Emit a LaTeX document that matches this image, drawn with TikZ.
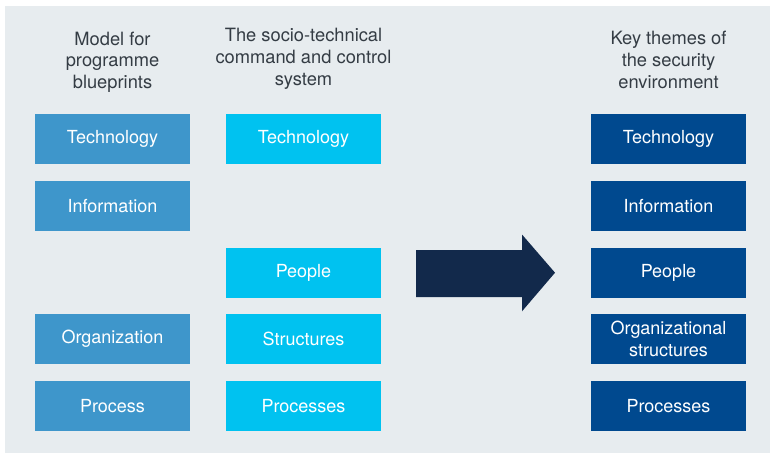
\documentclass[tikz,border=0pt]{standalone}
\usepackage{fontspec}
\setmainfont{TeX Gyre Heros}
\definecolor{panelbg}{HTML}{E7ECEF}
\definecolor{headtext}{HTML}{343C44}
\definecolor{blueprint}{HTML}{3E96CB}
\definecolor{sociotech}{HTML}{00C2F0}
\definecolor{theme}{HTML}{00498F}
\definecolor{arrowfill}{HTML}{12294B}
\begin{document}
\begin{tikzpicture}[x=1pt,y=-1pt,
  box/.style={minimum width=155pt,minimum height=50pt,inner sep=0pt,
    text=white,align=center,font=\fontsize{18}{22}\selectfont},
  bpbox/.style={box,fill=blueprint},
  stbox/.style={box,fill=sociotech},
  thbox/.style={box,fill=theme},
  header/.style={text=headtext,align=center,inner sep=0pt,
    font=\fontsize{18.3}{21.7}\selectfont}]
\useasboundingbox (0,0) rectangle (770,453);
\fill[white] (0,0) rectangle (770,453);
\fill[panelbg] (5,6) rectangle (770,453);

% column headings
\node[header] (h1) at (112.5,62) {Model for\\programme\\blueprints};
\node[header] (h2) at (303.5,59) {The socio-technical\\command and control\\system};
\node[header] (h3) at (668.5,60) {Key themes of\\the security\\environment};

% model for programme blueprints
\node[bpbox] (b1) at (112.5,139) {Technology};
\node[bpbox] (b2) at (112.5,206) {Information};
\node[bpbox] (b4) at (112.5,339) {Organization};
\node[bpbox] (b5) at (112.5,406) {Process};

% socio-technical system
\node[stbox] (s1) at (303.5,139) {Technology};
\node[stbox] (s3) at (303.5,273) {People};
\node[stbox] (s4) at (303.5,339) {Structures};
\node[stbox] (s5) at (303.5,406) {Processes};

% key themes
\node[thbox] (t1) at (668.5,139) {Technology};
\node[thbox] (t2) at (668.5,206) {Information};
\node[thbox] (t3) at (668.5,273) {People};
\node[thbox] (t4) at (668.5,339) {Organizational\\structures};
\node[thbox] (t5) at (668.5,406) {Processes};

% block arrow
\fill[arrowfill] (416,250) -- (522,250) -- (522,234.5) -- (555,272.7)
  -- (522,311.3) -- (522,297) -- (416,297) -- cycle;
\end{tikzpicture}
\end{document}
